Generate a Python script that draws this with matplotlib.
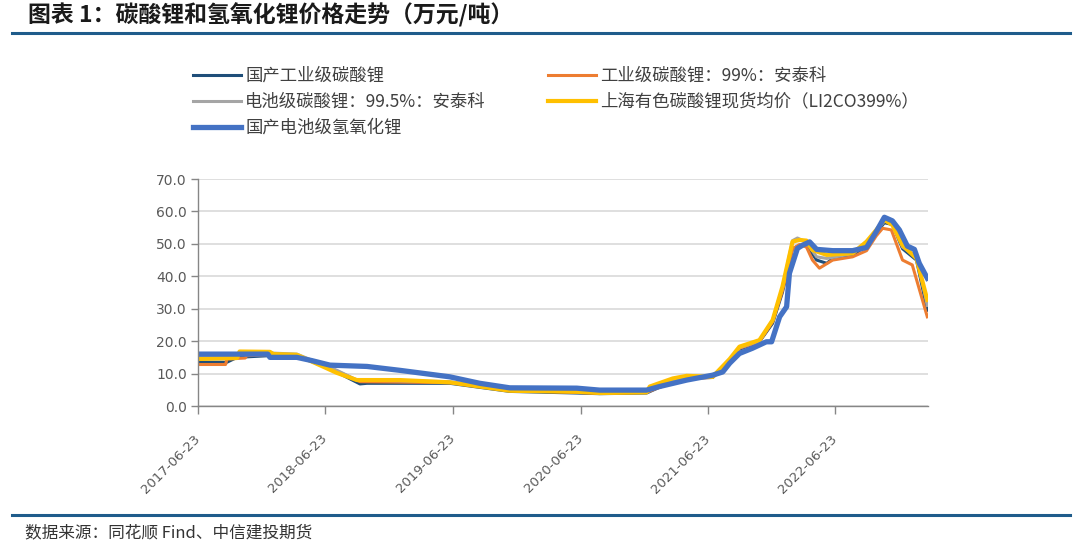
import matplotlib
matplotlib.use("Agg")
import matplotlib.pyplot as plt
from matplotlib.lines import Line2D
import matplotlib.transforms as mtransforms
import pandas as pd

plt.rcParams['font.family'] = ['Noto Sans CJK SC', 'DejaVu Sans']

# ---------------- data ----------------
title = "图表 1：碳酸锂和氢氧化锂价格走势（万元/吨）"
source = "数据来源：同花顺 Find、中信建投期货"

names = ["国产工业级碳酸锂", "工业级碳酸锂：99%：安泰科", "电池级碳酸锂：99.5%：安泰科",
         "上海有色碳酸锂现货均价（LI2CO399%）", "国产电池级氢氧化锂"]
colors = ["#1F4E79", "#ED7D31", "#A5A5A5", "#FFC000", "#4472C4"]
widths = [2.2, 2.2, 2.2, 3.0, 3.8]

navy_dates = ["2017-06-23", "2017-09-14", "2017-10-13", "2018-01-09", "2018-04-02", "2018-07-06",
              "2018-09-30", "2018-10-20", "2019-06-14", "2019-12-03", "2020-06-12", "2020-08-16",
              "2020-12-29", "2021-02-04", "2021-04-23", "2021-07-06", "2021-08-24", "2021-09-21",
              "2021-11-17", "2021-12-25", "2022-01-22", "2022-02-20", "2022-03-12", "2022-04-01",
              "2022-04-30", "2022-05-29", "2022-06-15", "2022-08-11", "2022-09-20", "2022-10-18",
              "2022-11-10", "2022-12-03", "2023-01-01", "2023-02-10", "2023-03-13"]
navy_vals = [13.5, 13.5, 15.0, 15.5, 15.5, 11.5, 6.8, 7.0, 7.0, 4.5, 4.0, 3.8, 4.0, 5.8, 8.5, 8.8,
             13.5, 17.5, 19.8, 25.5, 35.0, 48.5, 49.5, 49.5, 45.0, 44.0, 45.5, 46.5, 49.5, 53.5,
             56.5, 56.0, 48.5, 45.0, 29.5]

orange_dates = ["2017-06-23", "2017-09-10", "2017-09-14", "2017-11-05", "2017-11-10", "2018-01-09",
                "2018-04-02", "2018-07-06", "2018-09-30", "2019-06-14", "2019-12-03", "2020-06-12",
                "2020-08-16", "2020-12-29", "2021-02-04", "2021-04-23", "2021-07-06", "2021-08-24",
                "2021-09-21", "2021-11-17", "2021-12-25", "2022-01-22", "2022-02-20", "2022-03-12",
                "2022-04-01", "2022-04-18", "2022-05-08", "2022-06-15", "2022-08-11", "2022-09-20",
                "2022-10-18", "2022-11-05", "2022-11-30", "2023-01-01", "2023-01-29", "2023-03-13"]
orange_vals = [12.8, 12.8, 14.5, 14.8, 15.5, 15.8, 15.5, 11.8, 7.5, 7.2, 4.8, 4.2, 3.9, 4.2, 5.8,
               8.5, 8.8, 13.5, 17.8, 19.8, 26.0, 35.5, 48.5, 49.8, 49.0, 45.0, 42.5, 45.0, 46.0,
               47.9, 52.5, 54.8, 54.3, 45.0, 43.5, 27.5]

gray_dates = ["2017-06-23", "2017-10-13", "2017-10-20", "2018-01-15", "2018-01-25", "2018-04-02",
              "2018-07-26", "2018-09-21", "2019-06-14", "2019-12-03", "2020-06-12", "2020-08-16",
              "2020-12-29", "2021-02-04", "2021-04-23", "2021-07-06", "2021-08-24", "2021-09-21",
              "2021-11-17", "2021-12-25", "2022-01-22", "2022-02-20", "2022-03-06", "2022-04-01",
              "2022-04-30", "2022-05-29", "2022-08-11", "2022-09-20", "2022-10-18", "2022-11-10",
              "2022-12-03", "2023-01-01", "2023-02-10", "2023-03-13"]
gray_vals = [15.0, 15.5, 16.5, 16.5, 16.3, 16.0, 11.0, 8.0, 7.5, 5.0, 4.5, 4.2, 4.3, 6.5, 9.0, 9.0,
             14.0, 18.0, 20.0, 26.5, 36.5, 51.0, 51.8, 50.5, 46.0, 45.5, 47.0, 50.0, 54.0, 57.0,
             56.5, 49.0, 46.0, 31.0]

yellow_dates = ["2017-06-23", "2017-10-13", "2017-10-20", "2018-01-15", "2018-01-25", "2018-04-02",
                "2018-07-26", "2018-09-21", "2019-01-22", "2019-06-14", "2019-12-03", "2020-06-12",
                "2020-08-16", "2020-12-29", "2021-01-07", "2021-03-14", "2021-04-23", "2021-07-06",
                "2021-08-24", "2021-09-21", "2021-11-17", "2021-12-25", "2022-01-22", "2022-02-20",
                "2022-03-12", "2022-04-01", "2022-04-18", "2022-05-29", "2022-08-11", "2022-09-20",
                "2022-10-18", "2022-11-10", "2022-12-03", "2023-01-01", "2023-02-10", "2023-03-13"]
yellow_vals = [14.5, 14.8, 16.8, 16.7, 16.0, 15.8, 10.2, 8.0, 8.0, 7.3, 4.7, 4.4, 4.0, 4.2, 6.0,
               8.5, 9.3, 9.0, 14.5, 18.3, 20.3, 26.5, 36.8, 50.7, 51.2, 51.0, 48.1, 46.6, 47.1,
               50.7, 54.3, 57.4, 55.8, 49.6, 45.5, 32.7]

blue_dates = ["2017-06-23", "2018-01-09", "2018-01-15", "2018-04-02", "2018-05-15", "2018-07-06",
              "2018-10-20", "2019-01-22", "2019-06-14", "2019-09-08", "2019-12-03", "2020-06-12",
              "2020-08-16", "2020-12-29", "2021-02-04", "2021-04-23", "2021-07-06", "2021-08-04",
              "2021-08-24", "2021-09-21", "2021-10-28", "2021-12-07", "2021-12-22", "2022-01-14",
              "2022-02-03", "2022-02-11", "2022-03-06", "2022-03-21", "2022-04-10", "2022-04-30",
              "2022-06-15", "2022-08-11", "2022-09-20", "2022-10-18", "2022-11-10", "2022-12-03",
              "2022-12-23", "2023-01-15", "2023-02-04", "2023-02-18", "2023-03-13"]
blue_vals = [16.0, 16.0, 15.0, 15.0, 14.0, 12.6, 12.2, 11.0, 9.0, 7.0, 5.6, 5.5, 4.9, 4.9, 6.0,
             8.0, 9.5, 10.5, 13.2, 16.2, 17.8, 19.8, 19.8, 27.5, 30.6, 40.9, 48.6, 49.6, 50.6,
             48.3, 47.9, 47.9, 48.9, 53.8, 58.2, 57.1, 54.3, 49.3, 48.3, 44.0, 39.4]

tick_dates = ["2017-06-23", "2018-06-23", "2019-06-23", "2020-06-23", "2021-06-23", "2022-06-23"]
y_ticks = [0, 10, 20, 30, 40, 50, 60, 70]

series = [(navy_dates, navy_vals), (orange_dates, orange_vals), (gray_dates, gray_vals),
          (yellow_dates, yellow_vals), (blue_dates, blue_vals)]

# ---------------- figure ----------------
fig = plt.figure(figsize=(10.8, 5.48), dpi=100)
ax = fig.add_axes([198 / 1080, 1 - 406 / 548, (928 - 198) / 1080, (406 - 179) / 548])

handles = []
for (d, v), name, c, w in zip(series, names, colors, widths):
    ln, = ax.plot(pd.to_datetime(d), v, color=c, lw=w, label=name, solid_joinstyle='round')
    handles.append(ln)

ax.set_ylim(0, 70)
ax.set_yticks(y_ticks)
ax.set_yticklabels([f"{t:.1f}" for t in y_ticks], family='DejaVu Sans')
ax.set_xlim(pd.Timestamp("2017-06-23"), pd.Timestamp("2023-03-15"))
ax.set_xticks(pd.to_datetime(tick_dates))
ax.set_xticklabels(tick_dates, rotation=45, ha='right', va='center', rotation_mode='anchor',
                   family='DejaVu Sans')
shift = mtransforms.ScaledTranslation(4 / 100, 0, fig.dpi_scale_trans)
for lbl in ax.get_xticklabels():
    lbl.set_transform(lbl.get_transform() + shift)
ax.grid(axis='y', color='#D9D9D9', lw=1.2)
ax.set_axisbelow(True)
for s in ['top', 'right']:
    ax.spines[s].set_visible(False)
for s in ['left', 'bottom']:
    ax.spines[s].set_color('#868686')
    ax.spines[s].set_linewidth(1.0)
ax.tick_params(axis='y', colors='#868686', labelcolor='#595959', labelsize=10, length=5, width=1, pad=3)
ax.tick_params(axis='x', colors='#868686', labelcolor='#595959', labelsize=9.5, length=6, width=1, pad=16)

# legend: two columns
leg_kw = dict(frameon=False, fontsize=12.5, handlelength=2.75, handletextpad=0.25,
              labelspacing=0.45, labelcolor='#404040', borderaxespad=0, borderpad=0)
leg1 = fig.legend([handles[0], handles[2], handles[4]], [names[0], names[2], names[4]],
                  loc='upper left', bbox_to_anchor=(193 / 1080, 1 - 67 / 548), **leg_kw)
leg2 = fig.legend([handles[1], handles[3]], [names[1], names[3]],
                  loc='upper left', bbox_to_anchor=(548 / 1080, 1 - 67 / 548), **leg_kw)

# header / footer
fig.text(28 / 1080, 1 - 15 / 548, title, fontsize=16.5, fontweight='bold', color='#1a1a1a',
         va='center', ha='left')
fig.add_artist(Line2D([12 / 1080, 1070 / 1080], [1 - 33 / 548, 1 - 33 / 548], color='#1F5C8B', lw=2.2))
fig.add_artist(Line2D([12 / 1080, 1070 / 1080], [1 - 515 / 548, 1 - 515 / 548], color='#1F5C8B', lw=2.2))
fig.text(25 / 1080, 1 - 533 / 548, source, fontsize=12, color='#333333', style='italic',
         va='center', ha='left')

fig.savefig("out.png", dpi=100)
